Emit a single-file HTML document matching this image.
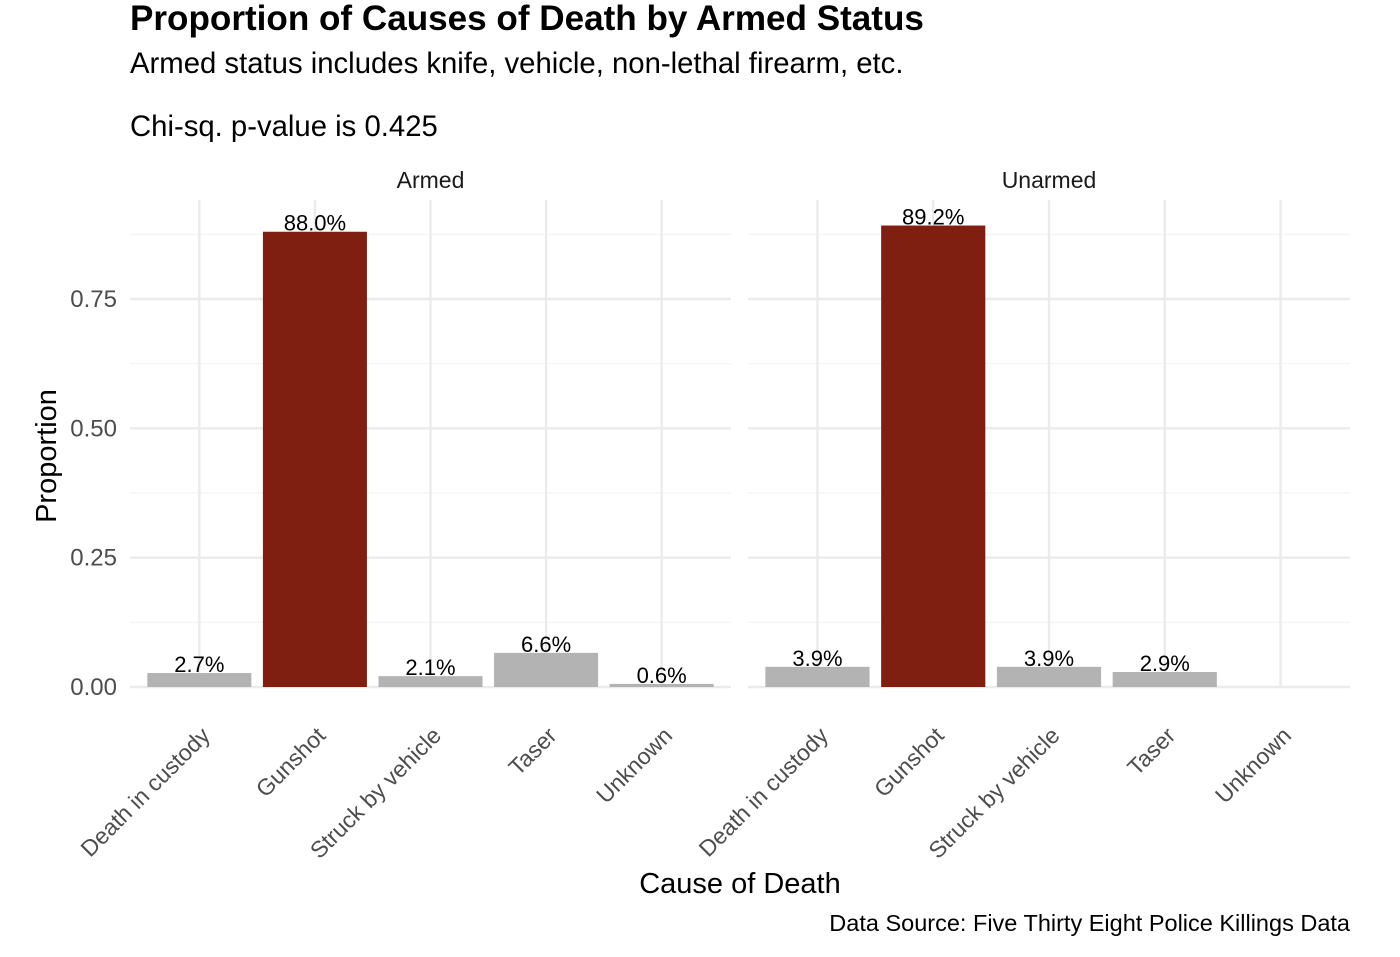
<!DOCTYPE html>
<html><head><meta charset="utf-8"><style>
body{margin:0;background:#fff;}
svg text{font-family:"Liberation Sans",Arial,sans-serif;}
</style></head><body>
<svg id="chart" width="1400" height="952" xmlns="http://www.w3.org/2000/svg">
<text x="130" y="30" font-size="35.1" font-weight="bold" fill="#000">Proportion of Causes of Death by Armed Status</text>
<text x="130" y="73" font-size="29.3" fill="#000">Armed status includes knife, vehicle, non-lethal firearm, etc.</text>
<text x="130" y="136" font-size="29.3" fill="#000">Chi-sq. p-value is 0.425</text>
<text transform="translate(56,456) rotate(-90)" text-anchor="middle" font-size="29" fill="#000">Proportion</text>
<text x="740" y="893" text-anchor="middle" font-size="29" fill="#000">Cause of Death</text>
<text x="1350" y="931" text-anchor="end" font-size="23.5" fill="#000">Data Source: Five Thirty Eight Police Killings Data</text>
<g id="plot"></g>
</svg>
<script>
const categories = ["Death in custody","Gunshot","Struck by vehicle","Taser","Unknown"];
const panels = ["Armed","Unarmed"];
const armedValues = [0.027,0.880,0.021,0.066,0.006];
const unarmedValues = [0.039,0.892,0.039,0.029,0];
const armedLabels = ["2.7%","88.0%","2.1%","6.6%","0.6%"];
const unarmedLabels = ["3.9%","89.2%","3.9%","2.9%",""];
const yTicks = [0,0.25,0.5,0.75];
const yTickLabels = ["0.00","0.25","0.50","0.75"];
const yMinor = [0.125,0.375,0.625,0.875];

const NS="http://www.w3.org/2000/svg";
const g=document.getElementById('plot');
function mk(tag,attrs,parent){const e=document.createElementNS(NS,tag);for(const k in attrs)e.setAttribute(k,attrs[k]);(parent||g).appendChild(e);return e;}
const y0=687, yTop=200, scaleY=517.33;
function y(v){return y0-v*scaleY;}
const panelX=[[130,731],[748,1350]];
const values=[armedValues,unarmedValues], labels=[armedLabels,unarmedLabels];
function xs(p,i){const [a,b]=panelX[p];const step=(b-a)/(categories.length-1+1.2);return a+step*(0.6+i);}
function step(p){const [a,b]=panelX[p];return (b-a)/(categories.length-1+1.2);}

yTicks.forEach((t,i)=>{
  const tx=mk('text',{x:117,y:y(t)+8,'text-anchor':'end','font-size':24,fill:'#4d4d4d'});
  
  
  tx.textContent=yTickLabels[i];
});
panels.forEach((pn,p)=>{
  const [a,b]=panelX[p];
  const st=mk('text',{x:(a+b)/2,y:188,'text-anchor':'middle','font-size':23,fill:'#1a1a1a'});
  
  
  st.textContent=pn;
  yMinor.forEach(t=>{const l=mk('line',{x1:a,x2:b,y1:y(t),y2:y(t),stroke:'#f2f2f2','stroke-width':1.2});
    });
  yTicks.forEach(t=>{const l=mk('line',{x1:a,x2:b,y1:y(t),y2:y(t),stroke:'#ebebeb','stroke-width':2.4});
    });
  categories.forEach((c,i)=>{const cx=xs(p,i);const l=mk('line',{x1:cx,x2:cx,y1:yTop,y2:y0,stroke:'#ebebeb','stroke-width':2.4});
    });
  const bw=step(p)*0.9;
  categories.forEach((c,i)=>{
    const cx=xs(p,i), v=values[p][i];
    const r=mk('rect',{x:cx-bw/2,y:y(v),width:bw,height:y0-y(v),fill:c==="Gunshot"?'#7f1f11':'#b3b3b3'});
    
    
    if(labels[p][i]){
      const t=mk('text',{x:cx,y:y(v)-1,'text-anchor':'middle','font-size':22,fill:'#000'});
      
      
      t.textContent=labels[p][i];
    }
    const tl=mk('text',{transform:`translate(${cx+12},${737}) rotate(-45)`,'text-anchor':'end','font-size':23,fill:'#4d4d4d'});
    
    
    tl.textContent=c;
  });
});
</script>
</body></html>
